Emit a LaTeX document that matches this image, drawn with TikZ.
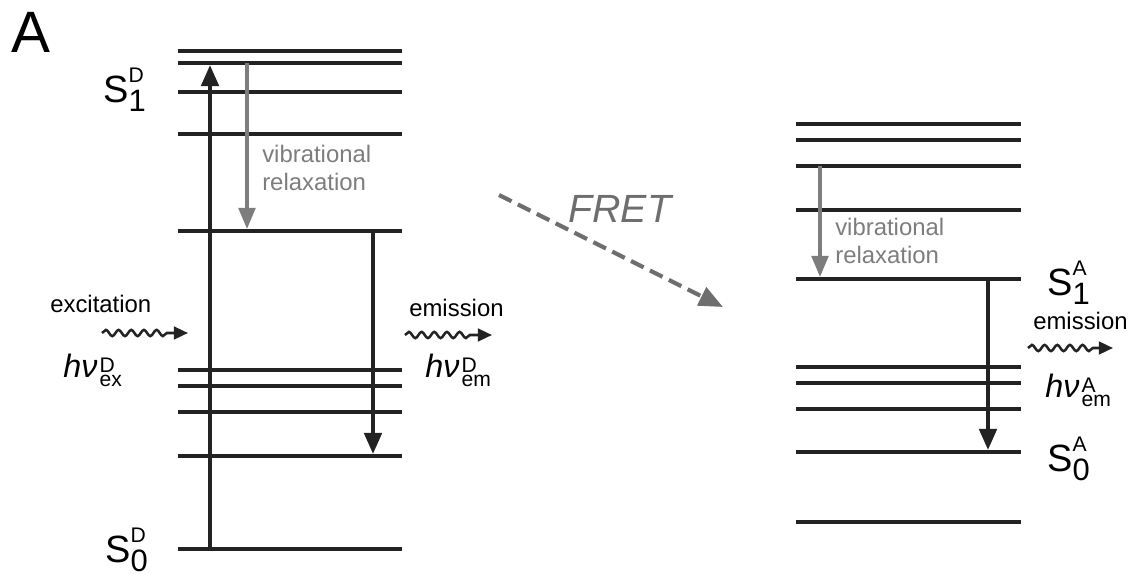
\documentclass[tikz,border=0pt]{standalone}
\usepackage{fontspec}
\setmainfont{Liberation Sans}
\usetikzlibrary{arrows.meta,decorations.pathmorphing}

\definecolor{niveaunoir}{RGB}{35,35,35}
\definecolor{relaxgris}{RGB}{125,125,125}
\definecolor{fretgris}{RGB}{110,110,110}

\newcommand\Slev[2]{S\rlap{\raisebox{14pt}{\fontsize{15}{15}\selectfont #1}}\raisebox{-7pt}{\fontsize{22}{22}\selectfont #2}}
\newcommand\hnu[2]{\textit{hν}\kern1.5pt\rlap{\raisebox{3pt}{\fontsize{15}{15}\selectfont #1}}\raisebox{-7pt}{\fontsize{15}{15}\selectfont #2}}

\tikzset{
  niveau/.style={line width=2.5pt, niveaunoir},
  transition/.style={line width=2.5pt, niveaunoir, -{Triangle[length=15pt,width=12.5pt]}, shorten >=1.5pt},
  relax/.style={line width=2.2pt, relaxgris, -{Triangle[length=15pt,width=12pt]}, shorten >=1.5pt},
  photon/.style={line width=1.8pt, niveaunoir, -{Triangle[length=10pt,width=9pt]}, decorate,
    decoration={snake, amplitude=2.2pt, segment length=9pt, post length=13pt}},
  fretfleche/.style={line width=3pt, fretgris, dash pattern=on 10pt off 5pt, -{Triangle[length=17pt,width=14pt]}},
  etiq/.style={inner sep=0pt, anchor=base west, font=\fontsize{17}{19.5}\selectfont},
  etat/.style={inner sep=0pt, anchor=base west, font=\fontsize{27}{27}\selectfont},
  photonlbl/.style={inner sep=0pt, anchor=base west, font=\fontsize{23}{23}\selectfont}
}

\begin{document}
\begin{tikzpicture}[x=0.025cm, y=-0.025cm]
  \useasboundingbox (0,0) rectangle (1132,573);

  % Lettre du panneau
  \node[inner sep=0pt, anchor=base west, font=\fontsize{41.5}{41.5}\selectfont] (panneau) at (11,52) {A};

  % Niveaux du donneur
  \foreach \y [count=\i] in {51,63,92,134,231,370,386,412,456,549}
    \draw[niveau] (178,\y) coordinate (dG\i) -- (402,\y) coordinate (dD\i);

  % Niveaux de l'accepteur
  \foreach \y [count=\i] in {124,140,166,210,279,367,383,409,452,522}
    \draw[niveau] (796,\y) coordinate (aG\i) -- (1021,\y) coordinate (aD\i);

  % Abscisses des transitions
  \coordinate (xexc) at (210,0);
  \coordinate (xrelD) at (247,0);
  \coordinate (xemD) at (373,0);
  \coordinate (xrelA) at (820,0);
  \coordinate (xemA) at (988,0);

  % Transitions du donneur
  \draw[transition] (xexc |- dG10) -- (xexc |- dG2);
  \draw[relax] (xrelD |- dG2) -- (xrelD |- dG5);
  \draw[transition] (xemD |- dG5) -- (xemD |- dG9);

  % Transitions de l'accepteur
  \draw[relax] (xrelA |- aG3) -- (xrelA |- aG5);
  \draw[transition] (xemA |- aG5) -- (xemA |- aG9);

  % Etats
  \node[etat] (s1d) at (103,102) {\Slev{D}{1}};
  \node[etat] (s0d) at (105,562) {\Slev{D}{0}};
  \node[etat] (s1a) at (1047,295) {\Slev{A}{1}};
  \node[etat] (s0a) at (1047,471) {\Slev{A}{0}};

  % Relaxation vibrationnelle
  \node[etiq, anchor=north west, align=left, text=relaxgris] (vibD) at (262,145) {vibrational\\relaxation};
  \node[etiq, anchor=north west, align=left, text=relaxgris] (vibA) at (835,218) {vibrational\\relaxation};

  % Photons
  \node[etiq] (excD) at (50,312) {excitation};
  \coordinate (excD0) at (102,333);
  \coordinate (excD1) at (188,333);
  \draw[photon] (excD0) -- (excD1);
  \node[photonlbl] (hnuex) at (63,377) {\hnu{D}{ex}};

  \node[etiq] (emD) at (409,316) {emission};
  \coordinate (emD0) at (405,335);
  \coordinate (emD1) at (492,335);
  \draw[photon] (emD0) -- (emD1);
  \node[photonlbl] (hnuemD) at (425,377) {\hnu{D}{em}};

  \node[etiq] (emA) at (1033,329) {emission};
  \coordinate (emA0) at (1028,348);
  \coordinate (emA1) at (1113,348);
  \draw[photon] (emA0) -- (emA1);
  \node[photonlbl] (hnuemA) at (1045,397) {\hnu{A}{em}};

  % Transfert FRET
  \coordinate (fret0) at (499,195);
  \coordinate (fret1) at (723,307);
  \draw[fretfleche] (fret0) -- (fret1);
  \node[inner sep=0pt, anchor=base west, text=fretgris, font=\fontsize{28}{28}\selectfont\itshape] (fret) at (568,222) {FRET};
\end{tikzpicture}
\end{document}
